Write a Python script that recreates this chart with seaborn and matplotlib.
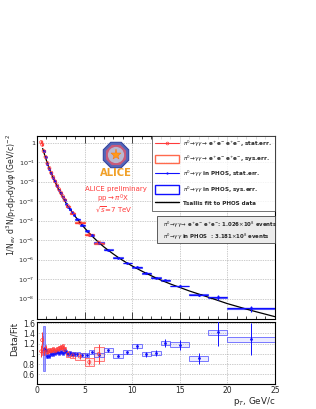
import numpy as np
import pandas as pd
import matplotlib
matplotlib.use('Agg')
import matplotlib.pyplot as plt
from matplotlib.patches import Rectangle, RegularPolygon, Circle, Patch
from matplotlib.lines import Line2D
from matplotlib.ticker import FixedLocator, MultipleLocator, FuncFormatter, FormatStrFormatter
import seaborn as sns

# Tsallis fit curve (log10 of yield)
fit_pt = [0.6, 0.7, 0.8, 0.9, 1.0, 1.2, 1.4, 1.6, 1.8, 2.0, 2.2, 2.4, 2.6, 2.8,
          3.0, 3.25, 3.5, 3.75, 4.0, 4.5, 5.0, 5.5, 6.0, 6.5, 7.0, 7.5, 8.0, 8.5,
          9.0, 9.5, 10, 11, 12, 13, 14, 15, 16, 17, 18, 19, 20, 22.5, 25]
fit_log10 = [-0.30, -0.45, -0.62, -0.77, -0.92, -1.20, -1.45, -1.68, -1.90, -2.10,
             -2.33, -2.52, -2.70, -2.88, -3.05, -3.25, -3.43, -3.60, -3.77, -4.08,
             -4.37, -4.64, -4.89, -5.12, -5.33, -5.52, -5.70, -5.87, -6.03, -6.18,
             -6.32, -6.58, -6.82, -7.04, -7.24, -7.42, -7.60, -7.76, -7.92, -8.085,
             -8.25, -8.60, -8.92]

# conversion method (e+e- e+e-)
conv_pt = [0.45, 0.55, 0.7, 0.9, 1.1, 1.3, 1.5, 1.7, 1.9, 2.1, 2.3, 2.5, 2.7, 2.9,
           3.25, 3.75, 4.5, 5.5, 6.5]
conv_hw = [0.05, 0.05, 0.1, 0.1, 0.1, 0.1, 0.1, 0.1, 0.1, 0.1, 0.1, 0.1, 0.1, 0.1,
           0.25, 0.25, 0.5, 0.5, 0.5]
conv_log10 = [0.03, -0.10, -0.43, -0.73, -1.05, -1.30, -1.54, -1.76, -1.98, -2.19,
              -2.38, -2.56, -2.74, -2.93, -3.25, -3.61, -4.10, -4.72, -5.12]
conv_ratio = [1.05, 1.27, 1.05, 1.10, 1.03, 1.06, 1.05, 1.08, 1.05, 1.07, 1.10, 1.12,
              1.13, 1.08, 1.00, 0.97, 0.95, 0.84, 1.00]
conv_stat = [0.12, 0.15, 0.08, 0.05, 0.04, 0.04, 0.04, 0.04, 0.04, 0.04, 0.04, 0.04,
             0.05, 0.05, 0.04, 0.04, 0.05, 0.06, 0.20]
conv_sys = [0.08, 0.08, 0.07, 0.07, 0.06, 0.06, 0.06, 0.06, 0.06, 0.06, 0.06, 0.06,
            0.06, 0.06, 0.06, 0.06, 0.07, 0.08, 0.13]

# PHOS
phos_pt = [0.7, 0.9, 1.1, 1.3, 1.5, 1.7, 1.9, 2.1, 2.3, 2.5, 2.7, 2.9, 3.1, 3.3, 3.5,
           3.7, 3.9, 4.25, 4.75, 5.25, 5.75, 6.5, 7.5, 8.5, 9.5, 10.5, 11.5, 12.5,
           13.5, 15, 17, 19, 22.5]
phos_hw = [0.1] * 17 + [0.25] * 4 + [0.5] * 8 + [1.0, 1.0, 1.0, 2.5]
phos_log10 = [-0.41, -0.74, -1.08, -1.34, -1.57, -1.79, -1.99, -2.20, -2.42, -2.59,
              -2.78, -2.94, -3.12, -3.29, -3.42, -3.57, -3.70, -3.93, -4.24, -4.51,
              -4.75, -5.13, -5.49, -5.89, -6.17, -6.39, -6.70, -6.92, -7.06, -7.35,
              -7.80, -7.93, -8.49]
phos_ratio = [1.10, 1.08, 0.95, 0.96, 1.00, 1.00, 1.02, 1.03, 1.02, 1.04, 1.02, 1.05,
              1.03, 1.00, 1.02, 0.99, 1.00, 1.00, 0.97, 0.98, 1.03, 0.98, 1.07, 0.96,
              1.03, 1.15, 0.99, 1.02, 1.21, 1.18, 0.91, 1.42, 1.29]
phos_stat = [0.04, 0.03, 0.03] + [0.02] * 19 + [0.03, 0.03, 0.03,
             0.05, 0.05, 0.06, 0.08, 0.10, 0.10, 0.27, 0.32]
phos_sys = [0.44] + [0.04] * 28 + [0.05, 0.05, 0.05, 0.05]

RED = '#ff3b3b'
RED_BOX = '#ff6a4d'
BLUE = '#1010ff'
BLUE_BOX = '#5a5aff'

conv = pd.DataFrame({'pt': conv_pt, 'hw': conv_hw, 'y': 10 ** np.array(conv_log10),
                     'ratio': conv_ratio, 'stat': conv_stat, 'sys': conv_sys})
phos = pd.DataFrame({'pt': phos_pt, 'hw': phos_hw, 'y': 10 ** np.array(phos_log10),
                     'ratio': phos_ratio, 'stat': phos_stat, 'sys': phos_sys})
fit = pd.DataFrame({'pt': fit_pt, 'y': 10 ** np.array(fit_log10)})

sns.set_style('white')
plt.rcParams['font.family'] = ['DejaVu Sans']
plt.rcParams['xtick.direction'] = 'in'
plt.rcParams['ytick.direction'] = 'in'

fig = plt.figure(figsize=(3.16, 4.09), dpi=100)
ax = fig.add_axes([0.117, 0.220, 0.753, 0.4474])
axr = fig.add_axes([0.117, 0.0611, 0.753, 0.1516])

grid_kw = dict(color='#9a9a9a', ls=(0, (1, 1.5)), lw=0.5, zorder=0)

# ---------- main panel ----------
ax.set_yscale('log')
ax.set_xlim(0, 25)
ax.set_ylim(10 ** -9.04, 10 ** 0.34)

for _, r in conv.iterrows():
    ax.add_patch(Rectangle((r.pt - r.hw, r.y * (1 - r.sys)), 2 * r.hw, 2 * r.y * r.sys,
                           fc='none', ec=RED_BOX, lw=0.9, zorder=3))
for _, r in phos.iterrows():
    s = min(r.sys, 0.1)
    ax.add_patch(Rectangle((r.pt - r.hw, r.y * (1 - s)), 2 * r.hw, 2 * r.y * s,
                           fc='none', ec=BLUE_BOX, lw=0.8, zorder=3))

sns.lineplot(data=fit, x='pt', y='y', color='black', lw=0.9, ax=ax, zorder=4)
ax.errorbar(phos.pt, phos.y, xerr=phos.hw, yerr=phos.y * phos.stat, fmt='none',
            ecolor=BLUE, elinewidth=0.9, zorder=5)
sns.scatterplot(data=phos, x='pt', y='y', color=BLUE, s=4, linewidth=0, ax=ax, zorder=6)
ax.errorbar(conv.pt, conv.y, xerr=conv.hw, yerr=conv.y * conv.stat, fmt='none',
            ecolor=RED, elinewidth=0.9, zorder=5)
sns.scatterplot(data=conv, x='pt', y='y', marker='o', facecolor='none', edgecolor=RED,
                s=5, linewidth=0.5, ax=ax, zorder=6)

ax.yaxis.set_major_locator(FixedLocator([10.0 ** e for e in range(-8, 1)]))
ax.yaxis.set_minor_locator(FixedLocator([m * 10.0 ** e for e in range(-10, 1)
                                         for m in range(2, 10)]))
ax.yaxis.set_major_formatter(FuncFormatter(
    lambda v, p: '1' if abs(np.log10(v)) < 0.01 else r'$10^{%d}$' % round(np.log10(v))))
ax.xaxis.set_major_locator(MultipleLocator(5))
ax.xaxis.set_minor_locator(MultipleLocator(1))
ax.tick_params(axis='y', which='major', length=5, width=0.6, labelsize=4.6, pad=1.5)
ax.tick_params(axis='y', which='minor', length=2.5, width=0.5)
ax.tick_params(axis='x', which='both', top=True, bottom=True, labelbottom=False,
               width=0.6)
ax.tick_params(axis='x', which='major', length=5)
ax.tick_params(axis='x', which='minor', length=2.5)
for v in [5, 10, 15, 20]:
    ax.axvline(v, **grid_kw)
for e in range(-8, 1):
    ax.axhline(10.0 ** e, **grid_kw)
ax.set_xlabel('')
ax.set_ylabel('')
for sp in ax.spines.values():
    sp.set_linewidth(0.8)
    sp.set_color('black')

# ---------- ratio panel ----------
axr.set_xlim(0, 25)
axr.set_ylim(0.41, 1.625)
for _, r in conv.iterrows():
    axr.add_patch(Rectangle((r.pt - r.hw, r.ratio - r.sys), 2 * r.hw, 2 * r.sys,
                            fc=(1, 0.4, 0.4, 0.12), ec=(1, 0.3, 0.3, 0.75), lw=0.7, zorder=3))
for i, r in phos.iterrows():
    if i == 0:
        axr.add_patch(Rectangle((r.pt - r.hw, r.ratio - r.sys), 2 * r.hw, 2 * r.sys,
                                fc=(0.35, 0.35, 1, 0.55), ec=(0.3, 0.3, 1, 0.7),
                                lw=0.6, zorder=3))
    else:
        axr.add_patch(Rectangle((r.pt - r.hw, r.ratio - r.sys), 2 * r.hw, 2 * r.sys,
                                fc=(0.4, 0.4, 1, 0.12), ec=(0.3, 0.3, 1, 0.75),
                                lw=0.7, zorder=3))
axr.errorbar(phos.pt, phos.ratio, yerr=phos.stat, fmt='none', ecolor=BLUE,
             elinewidth=0.7, zorder=5)
sns.scatterplot(data=phos, x='pt', y='ratio', color=BLUE, s=4, linewidth=0, ax=axr,
                zorder=6)
axr.errorbar(conv.pt, conv.ratio, yerr=conv.stat, fmt='none', ecolor=RED,
             elinewidth=0.7, zorder=5)
sns.scatterplot(data=conv, x='pt', y='ratio', marker='o', facecolor='none',
                edgecolor=RED, s=5, linewidth=0.5, ax=axr, zorder=6)

axr.xaxis.set_major_locator(MultipleLocator(5))
axr.xaxis.set_minor_locator(MultipleLocator(1))
axr.yaxis.set_major_locator(MultipleLocator(0.2))
axr.yaxis.set_minor_locator(MultipleLocator(0.05))
axr.yaxis.set_major_formatter(FormatStrFormatter('%g'))
axr.tick_params(axis='both', which='major', length=5, width=0.6, labelsize=5.5, pad=1.5)
axr.tick_params(axis='both', which='minor', length=2.5, width=0.5)
for v in [5, 10, 15, 20]:
    axr.axvline(v, **grid_kw)
for v in [0.6, 0.8, 1.0, 1.2, 1.4, 1.6]:
    axr.axhline(v, **grid_kw)
axr.set_xlabel('')
axr.set_ylabel('')
for sp in axr.spines.values():
    sp.set_linewidth(0.8)
    sp.set_color('black')

# ---------- axis titles ----------
fig.text(12 / 316, 1 - 134 / 409,
         r'1/N$_{ev}$ d$^{3}$N/p$_{T}$dp$_{T}$dyd$\varphi$ (GeV/c)$^{-2}$',
         rotation=90, ha='center', va='top', fontsize=5.6)
fig.text(14 / 316, 1 - 322 / 409, 'Data/Fit', rotation=90, ha='center', va='top',
         fontsize=6.3)
fig.text(276 / 316, 1 - 401 / 409, r'p$_{T}$, GeV/c', ha='right', va='center',
         fontsize=6.3)

# ---------- legend ----------
handles = [Line2D([0], [0], color=RED, lw=0.8, marker='o', mfc='none', ms=2, mew=0.5),
           Patch(fc='none', ec=RED_BOX, lw=1.0),
           Line2D([0], [0], color=BLUE, lw=0.8, marker='o', ms=1.6, mew=0),
           Patch(fc='none', ec=BLUE, lw=1.0),
           Line2D([0], [0], color='black', lw=1.0)]
labels = [r'$\pi^0\!\to\!\gamma\gamma\!\to$ e$^{+}$e$^{-}$ e$^{+}$e$^{-}$, stat.err.',
          r'$\pi^0\!\to\!\gamma\gamma\!\to$ e$^{+}$e$^{-}$ e$^{+}$e$^{-}$, sys.err.',
          r'$\pi^0\!\to\!\gamma\gamma$ in PHOS, stat.err.',
          r'$\pi^0\!\to\!\gamma\gamma$ in PHOS, sys.err.',
          'Tsallis fit to PHOS data']
leg = fig.legend(handles, labels, loc='upper right', bbox_to_anchor=(0.870, 0.6675),
                 prop={'size': 4.1, 'weight': 'bold'}, frameon=True, fancybox=False,
                 handlelength=4.2, handleheight=1.9, labelspacing=0.85,
                 borderpad=0.5, handletextpad=0.8, borderaxespad=0)
leg.get_frame().set_edgecolor('#333333')
leg.get_frame().set_linewidth(0.6)
leg.set_zorder(10)

fig.add_artist(Rectangle((157 / 316, 1 - 243 / 409), 118 / 316, 27 / 409,
                         transform=fig.transFigure, fc='#ebebeb', ec='#444444',
                         lw=0.6, zorder=10))
fig.text(163 / 316, 1 - 225 / 409,
         r'$\pi^0\!\to\!\gamma\gamma\!\to$ e$^{+}$e$^{-}$ e$^{+}$e$^{-}$: 1.026$\times$10$^{8}$ events',
         fontsize=3.9, weight='bold', va='center', zorder=11)
fig.text(163 / 316, 1 - 237 / 409,
         r'$\pi^0\!\to\!\gamma\gamma$ in PHOS  : 3.181$\times$10$^{8}$ events',
         fontsize=3.9, weight='bold', va='center', zorder=11)

# ---------- ALICE logo and labels ----------
lax = fig.add_axes([102 / 316, 1 - 169 / 409, 28 / 316, 28 / 409])
lax.set_xlim(-1, 1)
lax.set_ylim(-1, 1)
lax.set_aspect('equal')
lax.axis('off')
lax.add_patch(RegularPolygon((0, 0), 8, radius=0.98, orientation=np.pi / 8,
                             fc='#5566b8', ec='#3344a0', lw=0.8))
lax.add_patch(RegularPolygon((0, 0), 8, radius=0.78, orientation=np.pi / 8,
                             fc='#c85a7a', ec='none'))
lax.add_patch(Circle((0, 0), 0.58, fc='#b8b8d0', ec='none'))
lax.plot([0], [0], marker='*', ms=8, color='#ff9a1a', mec='#ff6a00', mew=0.3)
fig.text(116 / 316, 1 - 173 / 409, 'ALICE', color='#f0a028', fontsize=7.2,
         weight='bold', ha='center', va='center')

fig.text(116 / 316, 1 - 188.5 / 409, 'ALICE preliminary', color=RED, fontsize=5.0,
         ha='center', va='center')
fig.text(113 / 316, 1 - 199 / 409, r'pp$\to\pi^{0}$X', color=RED, fontsize=5.0,
         ha='center', va='center')
fig.text(114 / 316, 1 - 209.5 / 409, r'$\sqrt{s}$=7 TeV', color=RED, fontsize=5.0,
         ha='center', va='center')

fig.savefig('out.png', dpi=100)
